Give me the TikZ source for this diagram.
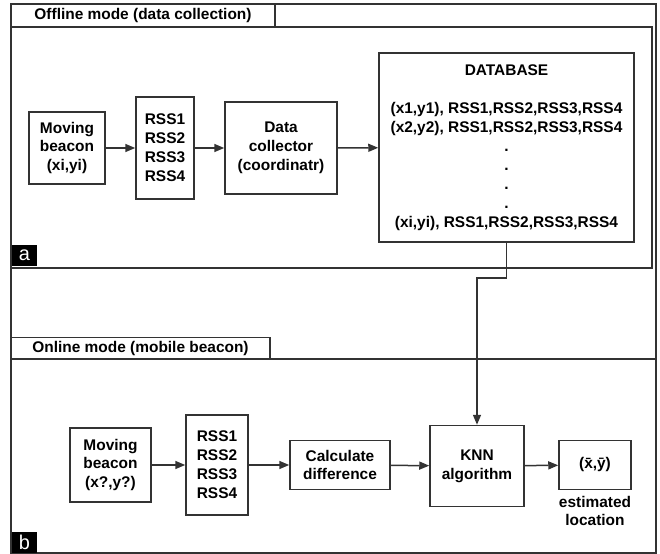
\documentclass[tikz,border=0pt]{standalone}
\usepackage{fontspec}
\setmainfont{Liberation Sans}
\usetikzlibrary{arrows.meta}

\begin{document}
\begin{tikzpicture}[>={Triangle[length=10bp,width=8bp]}, x=1bp, y=-1bp, line join=miter]
\tikzset{
  frame/.style={draw=black!80, line width=1.5bp},
  tab/.style={frame, minimum width=#1, minimum height=22bp, inner sep=0pt, font=\fontsize{15.5}{17}\selectfont\bfseries},
  box/.style={frame, align=center, inner sep=0pt, font=\fontsize{15.5}{19}\selectfont\bfseries},
  lab/.style={align=center, inner sep=0pt, font=\fontsize{15.5}{19}\selectfont\bfseries},
  tag/.style={fill=black, text=white, minimum width=25bp, minimum height=21bp, inner sep=0pt, font=\fontsize{20}{20}\selectfont},
  flow/.style={->, draw=black!80, line width=1.5bp},
}
\useasboundingbox (0,0) rectangle (660,554);

\draw[frame] (11,4) rectangle (656,553);
\node[tab=264bp] (offtab) at (143,15.5) {Offline mode (data collection)};
\draw[frame] (11,27) rectangle (652,268);
\node[tab=259bp] (ontab) at (140.5,348.5) {Online mode (mobile beacon)};
\draw[frame] (11,359) rectangle (656,553);

\node[box, minimum width=76bp, minimum height=72bp] (beacon1) at (67,148) {Moving\\beacon\\(xi,yi)};
\node[box, minimum width=58bp, minimum height=102bp] (rss1) at (165,148) {RSS1\\RSS2\\RSS3\\RSS4};
\node[box, minimum width=112bp, minimum height=92bp] (coll) at (281,148) {Data\\collector\\(coordinatr)};
\node[box, minimum width=255bp, minimum height=189bp] (db) at (506.5,147.5) {DATABASE\\[19bp]
  (x1,y1), RSS1,RSS2,RSS3,RSS4\\(x2,y2), RSS1,RSS2,RSS3,RSS4\\.\\.\\.\\.\\(xi,yi), RSS1,RSS2,RSS3,RSS4};

\node[box, minimum width=81bp, minimum height=74bp] (beacon2) at (110.5,465) {Moving\\beacon\\(x?,y?)};
\node[box, minimum width=62bp, minimum height=100bp] (rss2) at (217,465) {RSS1\\RSS2\\RSS3\\RSS4};
\node[box, minimum width=100bp, minimum height=49bp] (diff) at (340,465) {Calculate\\difference};
\node[box, minimum width=94bp, minimum height=81bp] (knn) at (477,466) {KNN\\algorithm};
\node[box, minimum width=72bp, minimum height=49bp] (est) at (595,465) {(\={x},\={y})};
\node[lab] (estlab) at (595,511) {estimated\\location};

\draw[flow] (beacon1) -- (rss1);
\draw[flow] (rss1) -- (coll);
\draw[flow] (coll) -- (db);
\draw[flow] (db.south) -- ++(0,35) -| (knn.north);
\draw[flow] (beacon2) -- (rss2);
\draw[flow] (rss2) -- (diff);
\draw[flow] (diff) -- (knn);
\draw[flow] (knn) -- (est);

\node[tag] (taga) at (24.5,255.5) {a};
\node[tag] (tagb) at (24.5,542.5) {b};
\end{tikzpicture}
\end{document}
